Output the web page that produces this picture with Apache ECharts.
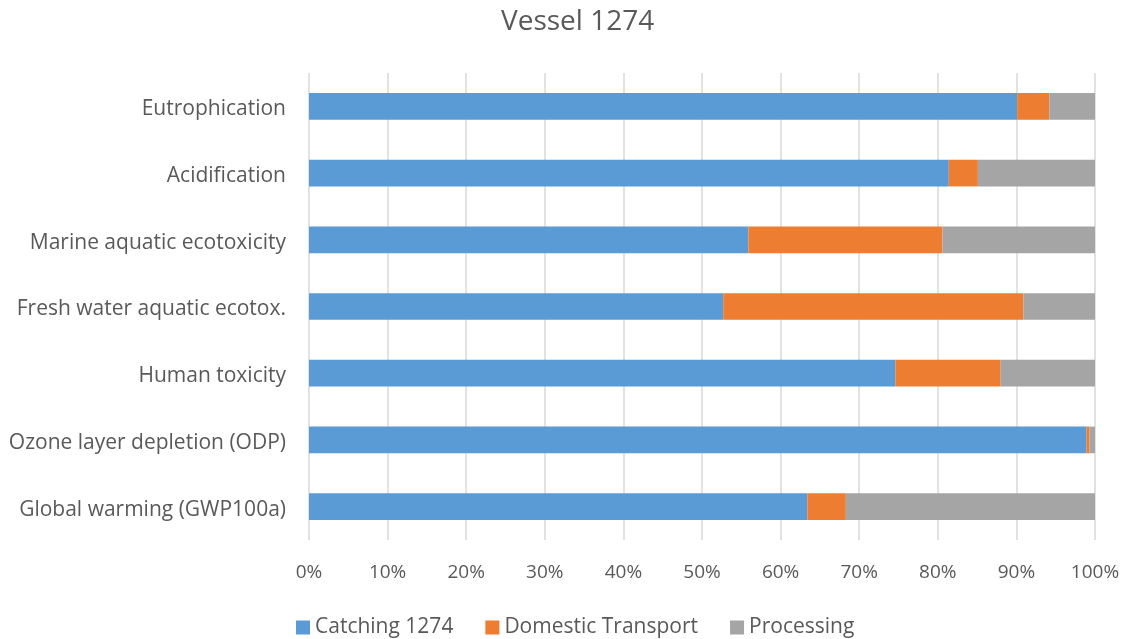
<!DOCTYPE html>
<html>
<head>
<meta charset="utf-8">
<script src="https://cdn.jsdelivr.net/npm/echarts@6/dist/echarts.min.js"></script>
<style>
html,body{margin:0;padding:0;background:#fff;}
#chart{width:1130px;height:639px;}
</style>
</head>
<body>
<div id="chart"></div>
<script>
// Categories listed bottom to top (ECharts category y-axis starts at the bottom)
const categories = [
  "Global warming (GWP100a)",
  "Ozone layer depletion (ODP)",
  "Human toxicity",
  "Fresh water aquatic ecotox.",
  "Marine aquatic ecotoxicity",
  "Acidification",
  "Eutrophication"
];
const catching = [63.4, 98.9, 74.6, 52.7, 55.9, 81.4, 90.1];
const domestic = [4.9, 0.4, 13.4, 38.2, 24.7, 3.7, 4.1];
const processing = [31.7, 0.7, 12.0, 9.1, 19.4, 14.9, 5.8];
const seriesNames = ["Catching 1274", "Domestic Transport", "Processing"];
const colors = ["#5b9bd5", "#ed7d31", "#a5a5a5"];

const font = "'Open Sans', 'Noto Sans', sans-serif";
const chart = echarts.init(document.getElementById('chart'));
const dataSets = [catching, domestic, processing];

chart.setOption({
  animation: false,
  textStyle: { fontFamily: font },
  title: {
    text: "Vessel 1274",
    left: 496,
    top: 3,
    textStyle: { fontFamily: font, fontSize: 28, fontWeight: 'normal', color: '#595959' }
  },
  legend: {
    bottom: -4,
    left: 291,
    itemWidth: 14,
    itemHeight: 14,
    itemGap: 32,
    icon: 'rect',
    textStyle: { fontFamily: font, fontSize: 21, color: '#595959' },
    data: seriesNames
  },
  grid: { left: 309, right: 35, top: 73, bottom: 99, containLabel: false },
  xAxis: {
    type: 'value',
    min: 0, max: 100, interval: 10,
    axisLabel: { formatter: '{value}%', fontSize: 19, color: '#595959', margin: 23, fontFamily: font },
    axisLine: { show: false },
    axisTick: { show: false },
    splitLine: { show: true, lineStyle: { color: '#d9d9d9', width: 1.5 } }
  },
  yAxis: {
    type: 'category',
    data: categories,
    axisLabel: {
      fontSize: 21, color: '#595959', margin: 23, fontFamily: font,
      formatter: v => '{a|' + v + '}',
      rich: { a: { fontSize: 21, color: '#595959', fontFamily: font, padding: [6, 0, 0, 0] } }
    },
    axisLine: { show: false },
    axisTick: { show: false }
  },
  series: seriesNames.map((n, i) => ({
    name: n,
    type: 'bar',
    stack: 'total',
    barWidth: '40%',
    itemStyle: { color: colors[i] },
    data: dataSets[i]
  }))
});
</script>
</body>
</html>
